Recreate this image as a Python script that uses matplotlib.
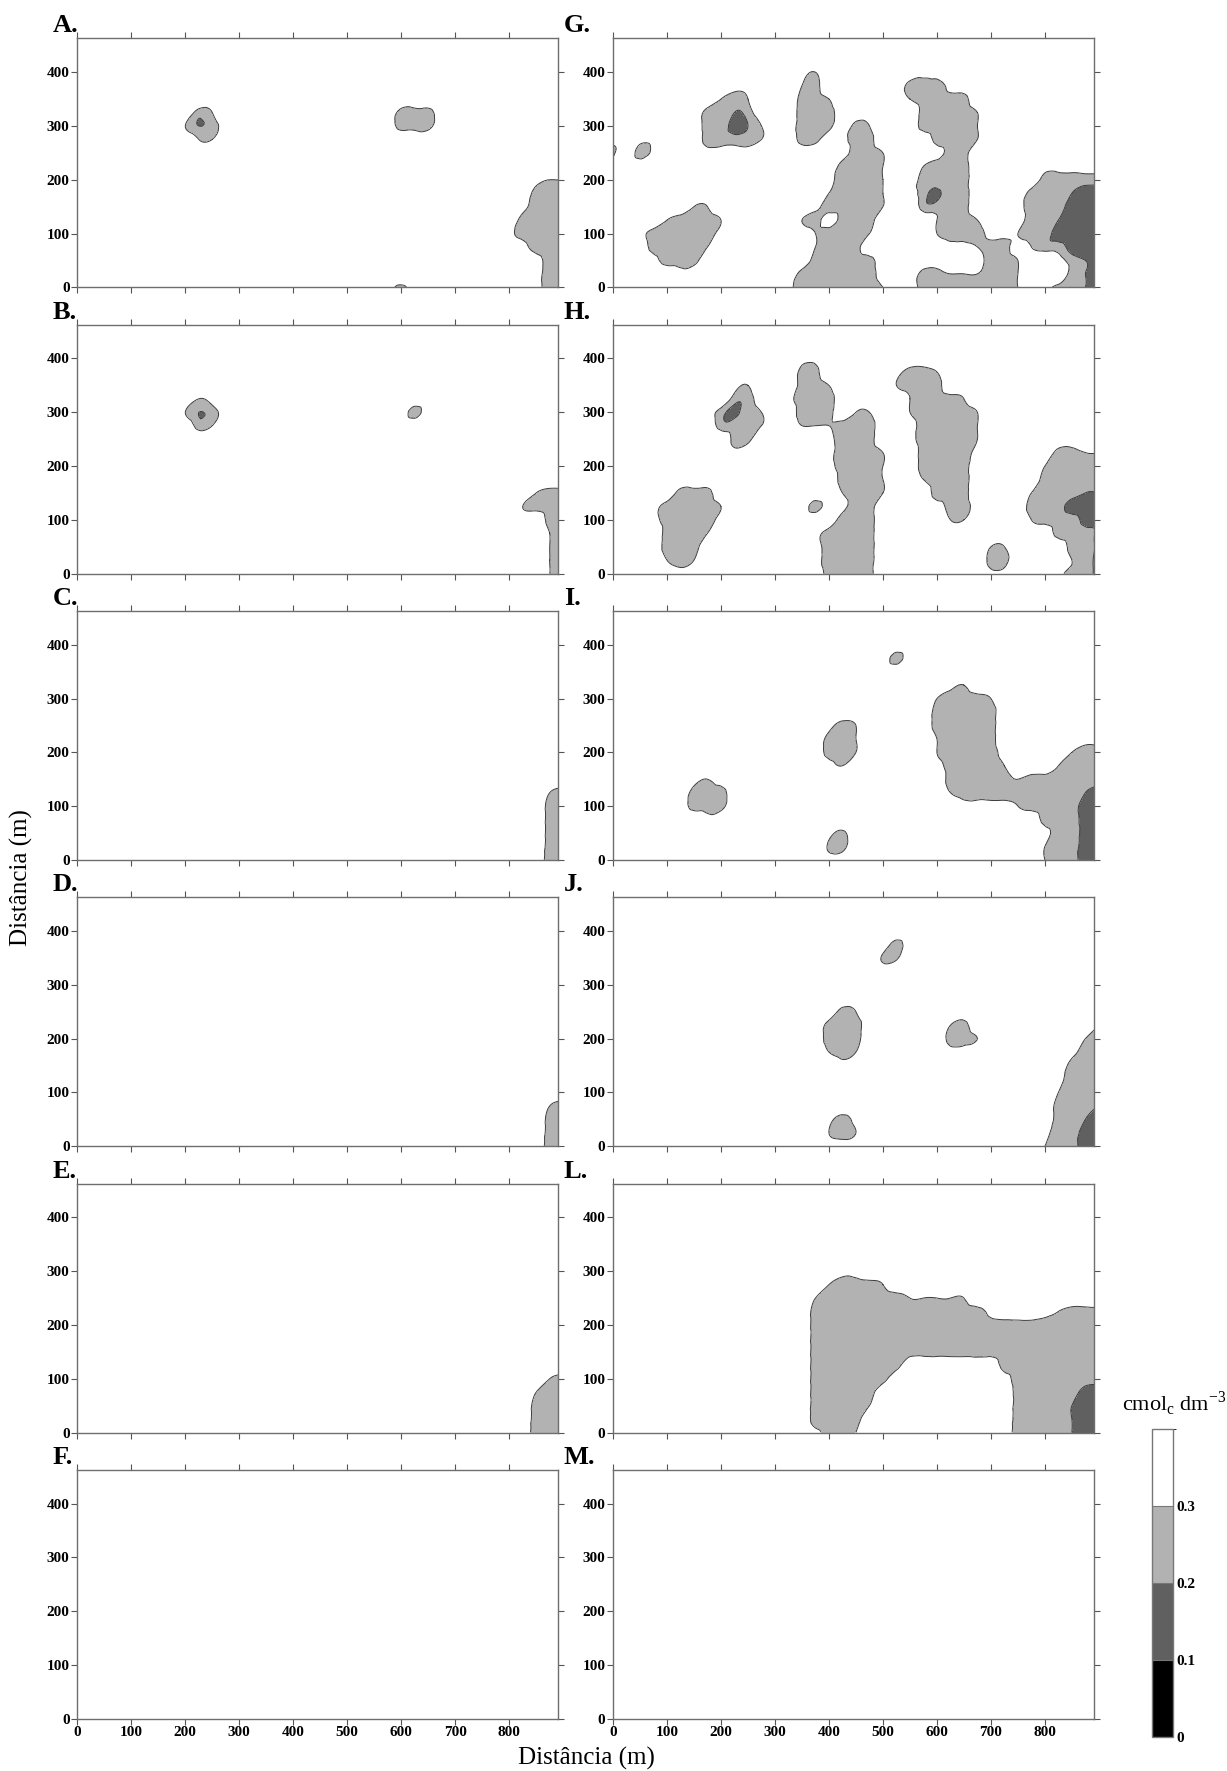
import numpy as np
import matplotlib
matplotlib.use("Agg")
import matplotlib.pyplot as plt
import matplotlib.tri as mtri
from matplotlib.cm import ScalarMappable
from matplotlib.colors import ListedColormap, BoundaryNorm

plt.rcParams['font.family'] = ['Liberation Serif', 'DejaVu Serif']
plt.rcParams['mathtext.fontset'] = 'custom'
plt.rcParams['mathtext.rm'] = 'Liberation Serif'

# sampling grid of the kriged maps (m)
grid_x = np.arange(0, 901, 25)
grid_y = np.arange(0, 476, 25)

# node values, one tuple per run of nodes: (y, first x, codes)
# '.' = 0.40, digit d = d * 0.05, letter = half step ('d' = 0.175, 'f' = 0.275)
map_A = [
    (325, 225, "56"), (300, 200, "6457"), (275, 225, "66"),
    (325, 600, "555"), (300, 600, "555"), (0, 600, "5"),
    (200, 850, "766"), (175, 850, "555"), (150, 825, "7555"),
    (125, 825, "5555"), (100, 800, "75555"), (75, 825, "7555"),
    (50, 850, "755"), (25, 850, "755"), (0, 850, "755"),
]
map_B = [
    (325, 225, "67"), (300, 200, "6457"), (275, 225, "56"),
    (300, 625, "5"),
    (150, 850, "655"), (125, 825, "6555"), (100, 875, "55"),
    (75, 875, "65"), (50, 875, "65"), (25, 875, "65"), (0, 875, "65"),
]
map_C = [
    (125, 875, "65"), (100, 875, "55"), (75, 875, "55"),
    (50, 875, "55"), (25, 875, "55"), (0, 875, "55"),
]
map_D = [
    (75, 875, "65"), (50, 875, "55"), (25, 875, "55"), (0, 875, "55"),
]
map_E = [
    (100, 875, "65"), (75, 850, "655"), (50, 850, "555"),
    (25, 850, "555"), (0, 850, "555"),
]
map_F = []

map_G = [
    (400, 350, "76"), (400, 575, "77"),
    (375, 225, "77"), (375, 350, "65"), (375, 550, "5557"),
    (350, 200, "656"), (350, 350, "556"), (350, 550, "65555"),
    (325, 175, "55457"), (325, 350, "555"), (325, 575, "55556"),
    (300, 175, "55346"), (300, 350, "555"), (300, 450, "56"), (300, 575, "55556"),
    (275, 50, "77"), (275, 175, "55556"), (275, 350, "55"), (275, 425, "755"),
    (275, 600, "5556"),
    (250, 0, "5"), (250, 50, "57"), (250, 175, "7777"), (250, 425, "7556"),
    (250, 600, "755"),
    (225, 425, "5556"), (225, 575, "6555"), (225, 800, "77777"),
    (200, 400, "75556"), (200, 575, "5555"), (200, 800, "55555"),
    (175, 400, "65556"), (175, 550, "75d55"), (175, 775, "555433"),
    (150, 150, "66"), (150, 375, "755556"), (150, 575, "5555"), (150, 750, "7555333"),
    (125, 100, "65556"), (125, 350, "657555"), (125, 600, "6556"), (125, 750, "7554333"),
    (100, 50, "7555557"), (100, 375, "65556"), (100, 600, "655577"), (100, 750, "6553333"),
    (75, 75, "55556"), (75, 375, "6555"), (75, 625, "776557"), (75, 775, "655333"),
    (50, 75, "7555"), (50, 375, "55555"), (50, 675, "7556"), (50, 825, "7543"),
    (25, 125, "7"), (25, 350, "5555557"), (25, 575, "55666556"), (25, 850, "543"),
    (0, 325, "75555556"), (0, 575, "55555556"), (0, 800, "75543"),
]
map_H = [
    (350, 225, "76"), (325, 225, "557"), (300, 175, "75d56"),
    (275, 200, "5556"), (250, 225, "55"), (225, 225, "7"),
    (150, 125, "555"), (125, 75, "755556"), (100, 75, "755557"),
    (75, 100, "5556"), (50, 100, "555"), (25, 100, "656"), (0, 125, "7"),
    (400, 350, "77"), (375, 350, "55"), (350, 350, "556"), (325, 325, "7555"),
    (300, 350, "555"), (275, 350, "666"),
    (300, 450, "66"), (275, 425, "555"), (250, 400, "7555"), (225, 400, "75556"),
    (200, 400, "75556"), (175, 425, "5556"), (150, 425, "6556"), (125, 425, "755"),
    (100, 425, "555"), (75, 375, "75555"), (50, 375, "75555"), (25, 375, "75555"),
    (0, 400, "5555"),
    (125, 375, "5"),
    (375, 525, "7556"), (350, 525, "6555"), (325, 550, "65556"),
    (300, 550, "655556"), (275, 550, "755556"), (250, 550, "755556"),
    (225, 575, "55557"), (200, 575, "5555"), (175, 575, "6555"),
    (150, 600, "555"), (125, 600, "7557"), (100, 625, "66"),
    (50, 700, "66"), (25, 700, "55"), (0, 700, "77"),
    (225, 825, "5566"), (200, 800, "65555"), (175, 800, "55555"),
    (150, 775, "655544"), (125, 775, "555333"), (100, 775, "655533"),
    (75, 825, "5553"), (50, 850, "553"), (25, 850, "653"), (0, 825, "7553"),
]
map_I = [
    (375, 525, "5"),
    (250, 400, "756"), (225, 400, "556"), (200, 400, "556"), (175, 400, "76"),
    (150, 150, "767"), (125, 150, "555"), (100, 150, "555"), (75, 175, "7"),
    (50, 400, "7f"), (25, 400, "f5"),
    (325, 625, "76"), (300, 600, "65556"), (275, 600, "55555"), (250, 600, "55555"),
    (225, 600, "65555"), (225, 875, "77"),
    (200, 600, "655557"), (200, 850, "655"),
    (175, 600, "755556"), (175, 825, "6555"),
    (150, 625, "55555"), (150, 750, "6555555"),
    (125, 625, "65555"), (125, 750, "5555543"),
    (100, 650, "7777"), (100, 750, "6555533"),
    (75, 800, "55533"), (50, 800, "75533"), (25, 800, "65533"), (0, 800, "65533"),
]
map_J = [
    (375, 525, "5"), (350, 500, "ff"),
    (250, 425, "56"), (225, 400, "555"), (200, 400, "555"), (175, 400, "656"),
    (150, 425, "7"),
    (225, 625, "65"), (200, 625, "556"), (175, 625, "77"),
    (50, 400, "757"), (25, 400, "656"), (0, 425, "7"),
    (225, 900, "6"), (200, 875, "65"), (175, 850, "755"), (150, 850, "555"),
    (125, 825, "7555"), (100, 825, "6555"), (75, 825, "5554"), (50, 825, "5543"),
    (25, 800, "75533"), (0, 800, "65533"),
]
map_L = [
    (300, 425, "77"), (275, 400, "65556"),
    (250, 375, "6555555"), (250, 550, "66666"),
    (225, 375, "55555555555"), (225, 650, "557"), (225, 800, "76555"),
    (200, 375, "55555555555"), (200, 650, "55555555555"),
    (175, 375, "55555555555"), (175, 650, "55555555555"),
    (150, 375, "55555555555"), (150, 650, "55555555555"),
    (125, 375, "5555555"), (125, 725, "55555555"),
    (100, 375, "555555"), (100, 725, "75555555"),
    (75, 375, "55555"), (75, 750, "5555533"),
    (50, 375, "55556"), (50, 750, "5555433"),
    (25, 375, "5555"), (25, 750, "5555433"),
    (0, 375, "7556"), (0, 750, "5555433"),
]
map_M = []

panel_labels = ["A.", "B.", "C.", "D.", "E.", "F.",
                "G.", "H.", "I.", "J.", "L.", "M."]
panel_maps = [map_A, map_B, map_C, map_D, map_E, map_F,
              map_G, map_H, map_I, map_J, map_L, map_M]

class_edges = [0, 0.1, 0.2, 0.3, 0.4]
class_colors = ['#000000', '#606060', '#b2b2b2', '#ffffff']
x_ticks = [0, 100, 200, 300, 400, 500, 600, 700, 800]
y_ticks = [0, 100, 200, 300, 400]


def decode(ch):
    if ch == '.':
        return 0.40
    if ch.isdigit():
        return int(ch) * 0.05
    return 0.025 + (ord(ch) - ord('a')) * 0.05


def build_field(rows):
    z = np.full((grid_y.size, grid_x.size), 0.40)
    for y, x0, codes in rows:
        j = int(y // 25)
        i0 = int(x0 // 25)
        if i0 + len(codes) > grid_x.size:
            raise ValueError("row overflow at y=%s x=%s" % (y, x0))
        for k, ch in enumerate(codes):
            z[j, i0 + k] = decode(ch)
    return z


# regular grid split into triangles, refined with a smooth cubic interpolator
nx, ny = grid_x.size, grid_y.size
gx, gy = np.meshgrid(grid_x, grid_y)
idx = np.arange(nx * ny).reshape(ny, nx)
a = idx[:-1, :-1].ravel()
b = idx[:-1, 1:].ravel()
c = idx[1:, 1:].ravel()
d = idx[1:, :-1].ravel()
triangles = np.concatenate([np.stack([a, b, c], 1), np.stack([a, c, d], 1)])
tri = mtri.Triangulation(gx.ravel().astype(float), gy.ravel().astype(float), triangles)
refiner = mtri.UniformTriRefiner(tri)


def smooth_field(z):
    cubic = mtri.CubicTriInterpolator(tri, z, kind='min_E')
    linear = mtri.LinearTriInterpolator(tri, z)
    tri_f, zc = refiner.refine_field(z, triinterpolator=cubic, subdiv=3)
    _, zl = refiner.refine_field(z, triinterpolator=linear, subdiv=3)
    # keep the cubic surface from over/undershooting into a wrong class
    return tri_f, np.clip(zc, zl - 0.035, zl + 0.035)


W, H = 1227, 1771
fig = plt.figure(figsize=(W / 100, H / 100), dpi=100)

col_left = [77.3, 613.0]
label_left = [53, 564]
ax_w, ax_h = 480.5, 249.0

for n, (lab, rows) in enumerate(zip(panel_labels, panel_maps)):
    col, row = divmod(n, 6)
    bottom_px = 287.3 + 286.3 * row
    ax = fig.add_axes([col_left[col] / W, 1 - bottom_px / H, ax_w / W, ax_h / H])

    tri_f, z_f = smooth_field(build_field(rows).ravel())
    ax.tricontourf(tri_f, z_f, levels=[-1, 0.1, 0.2, 0.3, 2], colors=class_colors)
    if np.nanmin(z_f) < 0.3:
        ax.tricontour(tri_f, z_f, levels=[0.1, 0.2, 0.3], colors='#3a3a3a',
                      linewidths=0.7)

    ax.set_xlim(0, 890)
    ax.set_ylim(0, 463)
    ax.set_xticks(x_ticks)
    ax.set_yticks(y_ticks)
    ax.tick_params(direction='out', length=4.5, width=0.8, color='#555555',
                   top=True, right=True, labelsize=11, pad=1)
    ax.set_yticklabels([str(v) for v in y_ticks], fontweight='bold')
    if row == 5:
        ax.set_xticklabels([str(v) for v in x_ticks], fontweight='bold')
    else:
        ax.tick_params(labelbottom=False)
    for sp in ax.spines.values():
        sp.set_color('#6e6e6e')
        sp.set_linewidth(1.0)

    top_px = bottom_px - ax_h
    fig.text(label_left[col] / W, 1 - (top_px - 6) / H, lab, fontsize=19,
             fontweight='bold', ha='left', va='baseline')

# colour scale
cax = fig.add_axes([1152.3 / W, 1 - 1737 / H, 20.4 / W, 308 / H])
cmap = ListedColormap(class_colors)
norm = BoundaryNorm(class_edges, cmap.N)
cb = fig.colorbar(ScalarMappable(norm=norm, cmap=cmap), cax=cax,
                  ticks=[0, 0.1, 0.2, 0.3], drawedges=True)
cb.outline.set_edgecolor('#777777')
cb.outline.set_linewidth(1.0)
cb.dividers.set_color('#777777')
cb.dividers.set_linewidth(0.8)
cax.tick_params(length=0, pad=3, labelsize=11)
cax.set_yticklabels(['0', '0.1', '0.2', '0.3'], fontweight='bold')

fig.text(1122 / W, 1 - 1411 / H, r'cmol$_\mathregular{c}$ dm$^\mathregular{-3}$',
         fontsize=16, ha='left', va='baseline')

fig.text(586 / W, 1 - 1765 / H, 'Distância (m)', fontsize=18,
         ha='center', va='baseline')
fig.text(21 / W, 1 - 878 / H, 'Distância (m)', fontsize=18, rotation=90,
         ha='center', va='center')

fig.savefig('out.png', dpi=100)
